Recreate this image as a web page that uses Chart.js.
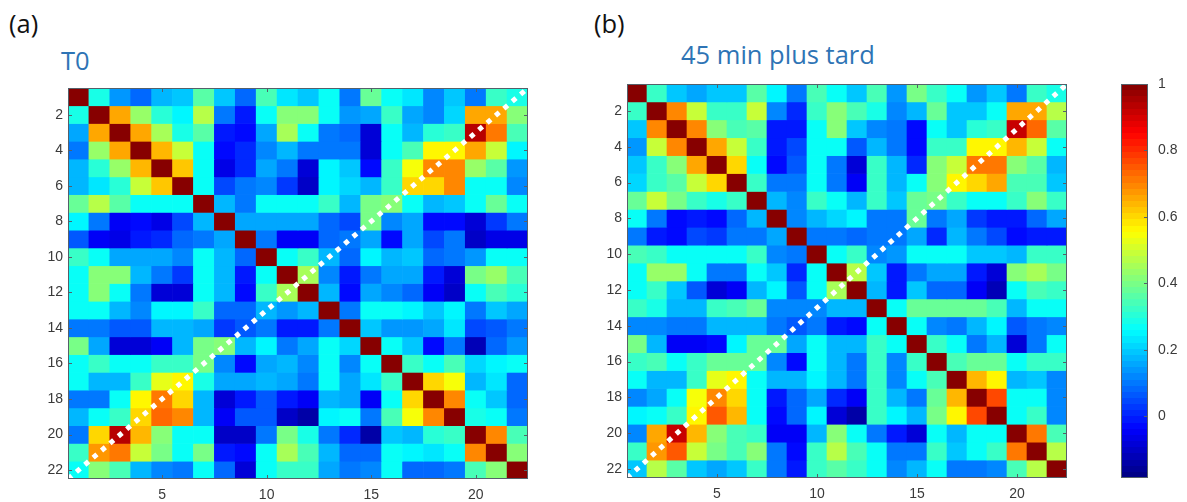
<!DOCTYPE html>
<html><head><meta charset="utf-8">
<script src="https://cdn.jsdelivr.net/npm/chart.js@4/dist/chart.umd.min.js"></script>
<style>
html,body{margin:0;padding:0;background:#fff;width:1187px;height:502px;overflow:hidden;}
body{position:relative;}
canvas{position:absolute;display:block;}
.lbl{position:absolute;font-family:"Open Sans",sans-serif;white-space:nowrap;line-height:1;font-size:25.5px;}
</style></head><body>
<div class="lbl" style="left:9px;top:11px;color:#111">(a)</div>
<div class="lbl" style="left:61px;top:48px;color:#2e74b5">T0</div>
<div class="lbl" style="left:594px;top:11px;color:#111">(b)</div>
<div class="lbl" style="left:681px;top:42px;color:#2e74b5">45 min plus tard</div>
<canvas id="cA" width="500" height="414" style="left:28px;top:88px;width:500px;height:414px"></canvas>
<canvas id="cB" width="480" height="418" style="left:587px;top:84px;width:480px;height:418px"></canvas>
<canvas id="cC" width="65" height="422" style="left:1121px;top:70px;width:65px;height:422px"></canvas>
<script>
// ---- data ----
const cells = [1,2,3,4,5,6,7,8,9,10,11,12,13,14,15,16,17,18,19,20,21,22];
const xTickLabels = [5,10,15,20];
const yTickLabels = [2,4,6,8,10,12,14,16,18,20,22];
const colorbarTicks = [0,0.2,0.4,0.6,0.8,1];
const colorMin = -0.185, colorMax = 1;
const panelA = "T0", panelB = "45 min plus tard";

const valuesT0 = [
[1,.28,.13,.08,.17,.19,.36,.20,.08,.35,.24,.20,.26,.11,.38,.27,.24,.12,.19,.10,.32,.28],
[.29,1,.66,.43,.30,.25,.48,.10,.00,.27,.42,.42,.26,.13,.15,.33,.16,.12,.22,.65,.65,.42],
[.16,.66,1,.66,.45,.28,.37,.00,-.03,.15,.45,.27,.11,.08,-.09,.27,.17,.30,.33,.93,.72,.35],
[.10,.43,.66,1,.64,.50,.27,-.02,.01,.12,.18,.10,.10,.10,-.08,.27,.35,.57,.56,.66,.50,.25],
[.17,.30,.43,.64,1,.62,.26,-.06,.01,.15,.10,-.08,.25,.20,-.03,.33,.55,.70,.70,.43,.36,.13],
[.18,.24,.30,.50,.62,1,.26,.04,.10,.12,.02,-.10,.25,.22,.18,.32,.60,.60,.70,.27,.27,.12],
[.38,.48,.36,.27,.26,.26,1,.17,.10,.26,.26,.26,.32,.18,.40,.42,.27,.18,.20,.27,.38,.27],
[.25,.10,-.04,-.03,-.07,.04,.17,1,.15,.15,.15,.15,.08,.05,.40,.12,.15,-.03,-.02,-.08,.03,.10],
[.07,-.05,-.06,.00,.01,.08,.10,.15,1,.10,-.04,-.04,.08,.10,.15,-.02,.15,.05,.10,-.10,-.06,-.06],
[.33,.27,.15,.15,.15,.12,.26,.17,.08,1,.27,.32,.17,.08,.25,.18,.20,.08,.10,.13,.27,.27],
[.26,.42,.42,.18,.10,.02,.26,.17,.00,.26,1,.46,.12,-.01,.10,.16,.15,.00,-.09,.40,.44,.34],
[.26,.42,.27,.10,-.08,-.08,.26,.17,-.03,.32,.46,1,.17,-.02,.16,.12,.08,-.04,-.11,.27,.35,.30],
[.27,.27,.17,.12,.25,.25,.32,.08,.08,.17,.14,.18,1,.10,.26,.26,.25,.19,.25,.11,.19,.16],
[.10,.10,.07,.07,.17,.17,.16,.03,.07,.10,.00,.00,.10,1,.20,.13,.14,.16,.24,.04,.07,.10],
[.40,.15,-.09,-.09,-.04,.17,.40,.42,.17,.25,.10,.15,.27,.22,1,.26,.20,-.03,.10,-.12,.09,.14],
[.27,.32,.27,.26,.33,.33,.40,.12,-.02,.15,.17,.12,.26,.12,.26,1,.33,.27,.34,.21,.25,.26],
[.26,.17,.17,.33,.52,.56,.28,.16,.16,.18,.16,.10,.26,.15,.23,.33,1,.61,.54,.17,.24,.09],
[.10,.10,.26,.57,.72,.60,.17,-.08,-.01,.07,.00,-.05,.18,.15,-.05,.27,.61,1,.70,.27,.20,.09],
[.17,.26,.33,.60,.73,.70,.18,-.05,.07,.07,-.10,-.13,.25,.26,.10,.35,.54,.70,1,.28,.27,.10],
[.10,.61,.93,.64,.42,.27,.27,-.10,-.10,.10,.40,.28,.10,.01,-.13,.20,.17,.30,.32,1,.70,.35],
[.33,.67,.72,.50,.40,.27,.40,.00,-.03,.26,.46,.35,.18,.08,.08,.26,.25,.24,.26,.70,1,.42],
[.27,.42,.35,.18,.12,.10,.27,.08,-.09,.26,.33,.33,.15,.10,.12,.27,.08,.08,.10,.35,.42,1]
];

const values45 = [
[1,.32,.20,.15,.20,.20,.37,.25,.10,.35,.27,.20,.35,.13,.40,.32,.27,.13,.20,.10,.33,.28],
[.32,1,.70,.50,.33,.33,.50,.12,.01,.33,.42,.35,.28,.12,.18,.38,.20,.20,.26,.65,.65,.47],
[.20,.70,1,.70,.42,.35,.37,.00,.00,.26,.42,.20,.12,.10,-.02,.27,.20,.30,.33,.92,.74,.36],
[.13,.50,.70,1,.66,.50,.32,.00,.05,.26,.26,.06,.18,.10,-.03,.32,.33,.57,.57,.64,.50,.26],
[.20,.32,.42,.66,1,.61,.27,-.02,.07,.26,.10,-.08,.32,.18,.01,.42,.50,.72,.72,.42,.36,.18],
[.22,.33,.36,.50,.61,1,.33,.10,.10,.26,.10,-.04,.33,.18,.27,.42,.57,.61,.65,.35,.35,.20],
[.38,.50,.40,.33,.28,.33,1,.18,.12,.33,.27,.17,.33,.20,.38,.40,.32,.27,.27,.33,.42,.33],
[.27,.10,-.02,.00,-.03,.08,.18,1,.12,.18,.22,.25,.10,.10,.38,.10,.15,.03,.00,-.01,.08,.15],
[.10,-.01,-.02,.05,.03,.10,.10,.15,1,.10,.10,.08,.10,.10,.15,.01,.17,.10,.04,-.02,.00,.00],
[.35,.33,.27,.27,.27,.27,.33,.12,.10,1,.27,.33,.12,.13,.27,.27,.27,.20,.20,.17,.33,.33],
[.27,.43,.43,.27,.10,.10,.27,.20,.01,.27,1,.48,.20,.00,.10,.15,.15,-.01,-.09,.42,.46,.40],
[.27,.33,.20,.07,-.09,-.05,.17,.25,.07,.27,.46,1,.17,-.01,.20,.08,.08,-.05,-.12,.26,.35,.33],
[.32,.28,.17,.17,.32,.35,.38,.12,.12,.12,.18,.17,1,.26,.38,.38,.38,.38,.35,.17,.27,.27],
[.12,.12,.10,.10,.17,.18,.18,.10,.07,.10,.00,-.02,.26,1,.27,.12,.10,.17,.25,.07,.10,.12],
[.40,.18,-.04,-.04,-.02,.25,.38,.38,.15,.26,.17,.18,.33,.27,1,.33,.26,.10,.17,-.09,.10,.27],
[.33,.35,.27,.32,.38,.38,.38,.12,-.02,.26,.18,.10,.33,.12,.33,1,.35,.38,.38,.27,.33,.33],
[.27,.18,.18,.33,.52,.57,.27,.17,.17,.25,.17,.10,.33,.12,.27,.35,1,.63,.56,.18,.20,.12],
[.12,.15,.27,.55,.70,.61,.27,.00,.08,.15,.01,-.04,.33,.18,.10,.38,.63,1,.77,.27,.26,.12],
[.25,.26,.33,.56,.75,.64,.27,-.02,.08,.25,-.08,-.14,.33,.25,.17,.40,.57,.77,1,.27,.32,.12],
[.12,.65,.92,.63,.42,.35,.33,-.04,-.04,.18,.42,.26,.10,.00,-.08,.27,.18,.27,.27,1,.72,.35],
[.33,.68,.75,.50,.40,.35,.42,.10,-.02,.33,.47,.35,.27,.10,.10,.33,.20,.26,.33,.72,1,.47],
[.20,.48,.36,.20,.15,.20,.33,.10,-.01,.33,.37,.33,.27,.12,.18,.27,.10,.10,.12,.35,.47,1]
];

// ---- colormap (MATLAB jet, 64 levels) ----
function clamp01(v){return Math.max(0,Math.min(1,v));}
function jetAt(u){
  const r=clamp01(1.5-Math.abs(4*u-3)), g=clamp01(1.5-Math.abs(4*u-2)), b=clamp01(1.5-Math.abs(4*u-1));
  return 'rgb('+Math.round(r*255)+','+Math.round(g*255)+','+Math.round(b*255)+')';
}
function jetColor(v){
  const t=clamp01((v-colorMin)/(colorMax-colorMin));
  const idx=Math.min(63,Math.floor(t*64));
  return jetAt((idx+0.5)/64);
}

const tickFont={family:'"Liberation Sans", Arial, sans-serif', size:14};
const tickColor='#3a3a3a';
const frameColor='#55606a';

const framePlugin={
  id:'frame',
  afterDatasetsDraw(chart,args,opts){
    const {ctx,chartArea:a,scales}=chart;
    ctx.save();
    ctx.strokeStyle=opts.color||'#555';
    ctx.lineWidth=1;
    ctx.strokeRect(Math.round(a.left)+0.5,Math.round(a.top)+0.5,Math.round(a.width)-1,Math.round(a.height)-1);
    const L=opts.tickLen||4;
    ctx.beginPath();
    (opts.xTicks||[]).forEach(v=>{
      const px=Math.round(scales.x.getPixelForValue(v))+0.5;
      ctx.moveTo(px,a.top);ctx.lineTo(px,a.top+L);
      ctx.moveTo(px,a.bottom);ctx.lineTo(px,a.bottom-L);
    });
    (opts.yTicks||[]).forEach(v=>{
      const py=Math.round(scales.y.getPixelForValue(v))+0.5;
      if(opts.leftTicks!==false){ctx.moveTo(a.left,py);ctx.lineTo(a.left+L,py);}
      ctx.moveTo(a.right,py);ctx.lineTo(a.right-L,py);
    });
    ctx.stroke();
    ctx.restore();
  }
};

function heatChart(id, matrix, xAxisH){
  const datasets=matrix.map((row,r)=>({
    type:'bar',
    data:row.map((v,c)=>({x:cells[c], y:[cells[r]-0.5, cells[r]+0.5]})),
    backgroundColor:row.map(v=>jetColor(v)),
    borderWidth:0,
    grouped:false,
    barPercentage:1,
    categoryPercentage:1,
    order:1
  }));
  datasets.push({
    type:'line',
    data:[{x:cells[0]-0.5,y:cells[cells.length-1]+0.5},{x:cells[cells.length-1]+0.5,y:cells[0]-0.5}],
    borderColor:'#ffffff',
    borderWidth:5,
    borderDash:[5,6],
    pointRadius:0,
    fill:false,
    order:0
  });
  return new Chart(document.getElementById(id),{
    type:'bar',
    data:{datasets},
    options:{
      responsive:false,animation:false,
      layout:{padding:0},
      plugins:{legend:{display:false},tooltip:{enabled:false},
        frame:{color:frameColor,xTicks:xTickLabels,yTicks:yTickLabels,tickLen:4}},
      scales:{
        x:{type:'linear',offset:false,min:cells[0]-0.5,max:cells[cells.length-1]+0.5,
          grid:{display:false,drawTicks:false},border:{display:false},
          ticks:{font:tickFont,color:tickColor,padding:8,autoSkip:false,maxRotation:0,callback:v=>String(v)},
          afterBuildTicks:s=>{s.ticks=xTickLabels.map(v=>({value:v}));},
          afterFit:s=>{s.height=xAxisH;s.paddingLeft=0;s.paddingRight=0;}},
        y:{type:'linear',reverse:true,beginAtZero:false,min:cells[0]-0.5,max:cells[cells.length-1]+0.5,
          grid:{display:false,drawTicks:false},border:{display:false},
          ticks:{font:tickFont,color:tickColor,padding:5,autoSkip:false,callback:v=>String(v)},
          afterBuildTicks:s=>{s.ticks=yTickLabels.map(v=>({value:v}));},
          afterFit:s=>{s.width=40;s.paddingTop=0;s.paddingBottom=0;}}
      }
    },
    plugins:[framePlugin]
  });
}

heatChart('cA', valuesT0, 23);
heatChart('cB', values45, 24);

// ---- colorbar ----
new Chart(document.getElementById('cC'),{
  type:'bar',
  data:{labels:[''],datasets:[{
    data:[[colorMin,colorMax]],
    backgroundColor:(c)=>{
      const ch=c.chart, a=ch.chartArea;
      if(!a) return '#888';
      const g=ch.ctx.createLinearGradient(0,a.bottom,0,a.top);
      for(let i=0;i<64;i++){
        const col=jetAt((i+0.5)/64);
        g.addColorStop(i/64,col);
        g.addColorStop((i+1)/64-0.0001,col);
      }
      return g;
    },
    borderWidth:0,barPercentage:1,categoryPercentage:1
  }]},
  options:{
    responsive:false,animation:false,
    layout:{padding:{top:14,bottom:14,left:0,right:0}},
    plugins:{legend:{display:false},tooltip:{enabled:false},
      frame:{color:frameColor,xTicks:[],yTicks:colorbarTicks,tickLen:4,leftTicks:false}},
    scales:{
      x:{display:false},
      y:{type:'linear',position:'right',min:colorMin,max:colorMax,beginAtZero:false,
        grid:{display:false,drawTicks:false},border:{display:false},
        ticks:{font:tickFont,color:tickColor,padding:10,autoSkip:false,callback:v=>String(+Number(v).toFixed(2))},
        afterBuildTicks:s=>{s.ticks=colorbarTicks.map(v=>({value:v}));},
        afterFit:s=>{s.width=38;s.paddingTop=0;s.paddingBottom=0;}}
    }
  },
  plugins:[framePlugin]
});
</script>
</body></html>
